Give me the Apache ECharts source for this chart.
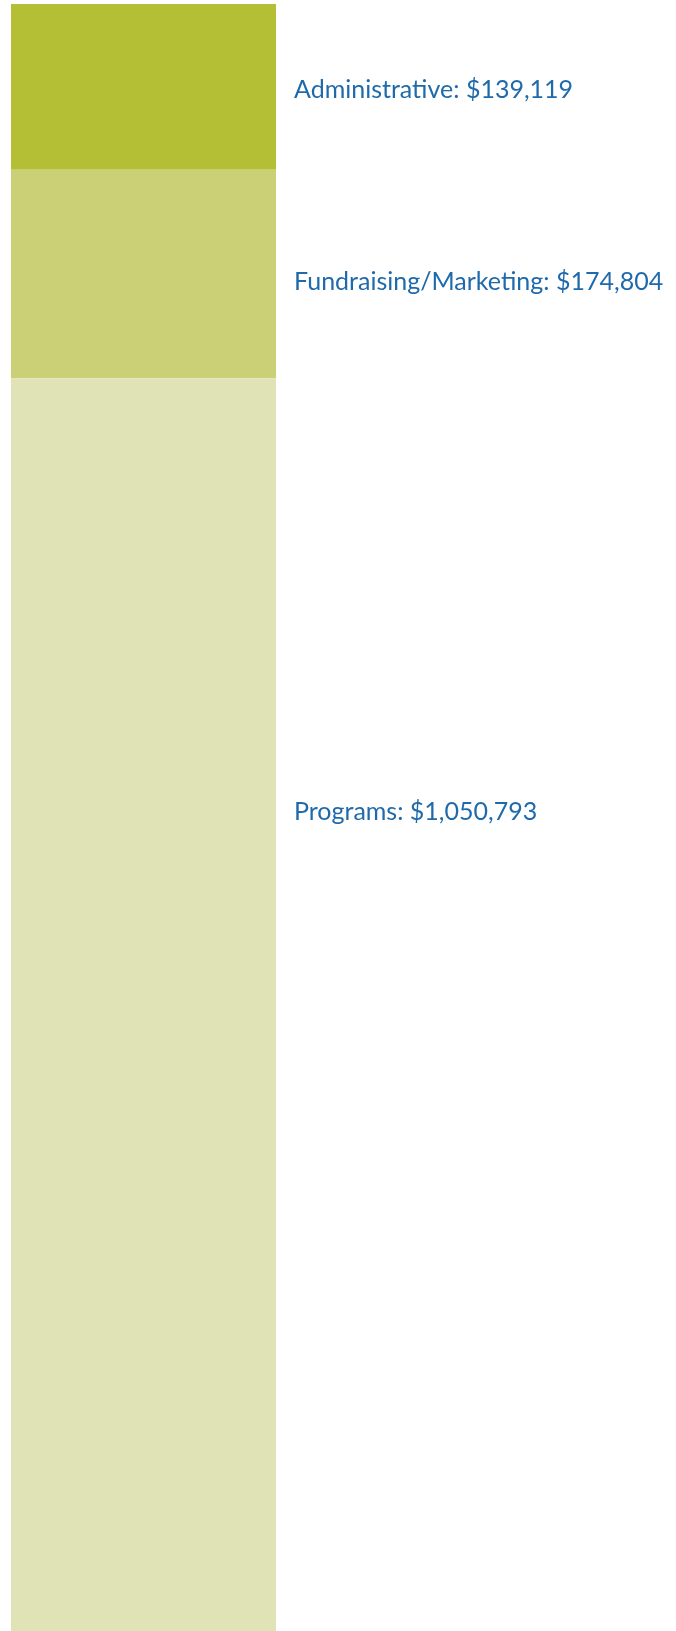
<!DOCTYPE html>
<html>
<head>
<meta charset="utf-8">
<script src="https://cdn.jsdelivr.net/npm/echarts@6/dist/echarts.min.js"></script>
<style>
html, body { margin: 0; padding: 0; background: #fff; }
#chart { width: 676px; height: 1631px; }
</style>
</head>
<body>
<div id="chart"></div>
<script>
// expense categories, top to bottom
var categories = ['Administrative', 'Fundraising/Marketing', 'Programs'];
var amounts = [139119, 174804, 1050793];
var colors = ['#b4bf35', '#cbcf76', '#e0e3b6'];
// label vertical nudges (px) so they sit where the original has them
var labelOffsets = [3, 8, -193];

var total = amounts.reduce(function (a, b) { return a + b; }, 0);

function money(v) {
    return '$' + v.toLocaleString('en-US');
}

var series = [];
for (var i = 0; i < categories.length; i++) {
    series.push({
        name: categories[i],
        type: 'bar',
        stack: 'total',
        barWidth: '100%',
        data: [amounts[i]],
        itemStyle: { color: colors[i] },
        label: {
            show: true,
            position: 'right',
            distance: 18,
            offset: [0, labelOffsets[i]],
            color: '#1f6aab',
            fontFamily: 'Lato',
            fontSize: 25,
            formatter: function (p) {
                return p.seriesName + ': ' + money(p.value);
            }
        }
    });
}

var chart = echarts.init(document.getElementById('chart'));
chart.setOption({
    animation: false,
    grid: { left: 11, right: 400, top: 4, bottom: 0 },
    xAxis: {
        type: 'category',
        data: ['Expenses'],
        show: false
    },
    yAxis: {
        type: 'value',
        inverse: true,
        min: 0,
        max: total,
        show: false
    },
    series: series
});
</script>
</body>
</html>
